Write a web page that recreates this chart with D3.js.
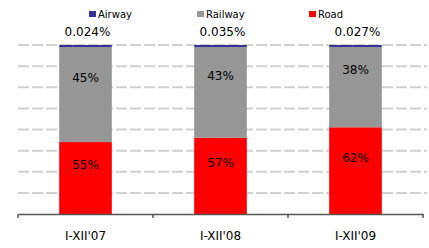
<!DOCTYPE html>
<html>
<head>
<meta charset="utf-8">
<script src="https://cdn.jsdelivr.net/npm/d3@7"></script>
<style>
  body { margin: 0; background: #fff; }
  text { font-family: "DejaVu Sans", sans-serif; fill: #000; }
</style>
</head>
<body>
<div id="chart"></div>
<script>
// chart data
var periods = ["I-XII'07", "I-XII'08", "I-XII'09"];
var road = [55, 57, 62];
var railway = [45, 43, 38];
var airway = [0.024, 0.035, 0.027];
var seriesNames = ["Airway", "Railway", "Road"];
var seriesColors = ["#333399", "#969696", "#ff0000"];

var svgWidth = 429;
var svgHeight = 248;

var margin = { top: 45, right: 5, bottom: 34, left: 18 };
var width = svgWidth - margin.left - margin.right;
var height = svgHeight - margin.top - margin.bottom;

var svg = d3.select("#chart")
    .append("svg")
    .attr("width", svgWidth)
    .attr("height", svgHeight);

var chartGroup = svg.append("g")
    .attr("transform", `translate(${margin.left}, ${margin.top})`);

// axis starts at 20%
var xScale = d3.scaleBand()
    .domain(periods)
    .range([0, width - 1])
    .paddingInner(0.61)
    .paddingOuter(0.305);

var yScale = d3.scaleLinear()
    .domain([20, 100])
    .range([height, 0]);

// dashed gridlines
chartGroup.append("g")
    .selectAll("line")
    .data(d3.range(30, 101, 10))
    .enter()
    .append("line")
    .attr("x1", 0)
    .attr("x2", width + 3)
    .attr("y1", d => yScale(d))
    .attr("y2", d => yScale(d))
    .attr("stroke", "#d0d0d0")
    .attr("stroke-width", 2)
    .attr("stroke-dasharray", "11,3");

var rows = periods.map(function(p, i) {
    return { period: p, road: road[i], railway: railway[i], airway: airway[i] };
});

var bw = xScale.bandwidth();

// road
chartGroup.selectAll(".road")
    .data(rows)
    .enter()
    .append("rect")
    .attr("x", d => xScale(d.period))
    .attr("width", bw)
    .attr("y", d => yScale(d.road) + 2)
    .attr("height", d => height - yScale(d.road) - 2)
    .attr("fill", seriesColors[2]);

// railway
chartGroup.selectAll(".rail")
    .data(rows)
    .enter()
    .append("rect")
    .attr("x", d => xScale(d.period))
    .attr("width", bw)
    .attr("y", d => yScale(d.road + d.railway) + 2)
    .attr("height", d => yScale(d.road) - yScale(d.road + d.railway))
    .attr("fill", seriesColors[1]);

// airway - too thin to see, so give it a 2px minimum
chartGroup.selectAll(".air")
    .data(rows)
    .enter()
    .append("rect")
    .attr("x", d => xScale(d.period))
    .attr("width", bw)
    .attr("y", d => yScale(100))
    .attr("height", d => Math.max(2, yScale(100 - d.airway) - yScale(100)))
    .attr("fill", seriesColors[0]);

// value labels
chartGroup.selectAll(".roadLabel")
    .data(rows)
    .enter()
    .append("text")
    .attr("x", d => xScale(d.period) + bw / 2)
    .attr("y", d => (yScale(d.road) + height) / 2 - 12)
    .attr("dy", "0.35em")
    .attr("text-anchor", "middle")
    .style("font-size", "12px")
    .text(d => d.road + "%");

chartGroup.selectAll(".railLabel")
    .data(rows)
    .enter()
    .append("text")
    .attr("x", d => xScale(d.period) + bw / 2)
    .attr("y", d => (yScale(d.road) + yScale(100)) / 2 - 15)
    .attr("dy", "0.35em")
    .attr("text-anchor", "middle")
    .style("font-size", "12px")
    .text(d => d.railway + "%");

chartGroup.selectAll(".airLabel")
    .data(rows)
    .enter()
    .append("text")
    .attr("x", d => xScale(d.period) + bw / 2 + 2)
    .attr("y", yScale(100) - 13)
    .attr("dy", "0.35em")
    .attr("text-anchor", "middle")
    .style("font-size", "12px")
    .text(d => d.airway.toFixed(3) + "%");

// x axis
var bottomAxis = d3.axisBottom(xScale).tickSize(0).tickPadding(17);
var xAxis = chartGroup.append("g")
    .attr("transform", `translate(0, ${height})`)
    .call(bottomAxis);
xAxis.select(".domain").attr("stroke", "#555").attr("stroke-width", 1.5);
xAxis.selectAll("text").style("font-size", "12px").style("font-family", "DejaVu Sans");

// tick marks between categories
var step = xScale.step();
chartGroup.append("g")
    .selectAll("line")
    .data(d3.range(0, periods.length + 1))
    .enter()
    .append("line")
    .attr("x1", d => Math.min(d * step, width - 1))
    .attr("x2", d => Math.min(d * step, width - 1))
    .attr("y1", height)
    .attr("y2", height + 4)
    .attr("stroke", "#555")
    .attr("stroke-width", 1.5);

// legend
var legendX = [89, 197, 309];
var legend = svg.append("g");
seriesNames.forEach(function(name, i) {
    legend.append("rect")
        .attr("x", legendX[i])
        .attr("y", 11)
        .attr("width", 7)
        .attr("height", 6)
        .attr("fill", seriesColors[i]);
    legend.append("text")
        .attr("x", legendX[i] + 9)
        .attr("y", 14)
        .attr("dy", "0.35em")
        .style("font-size", "10px")
        .text(name);
});
</script>
</body>
</html>
